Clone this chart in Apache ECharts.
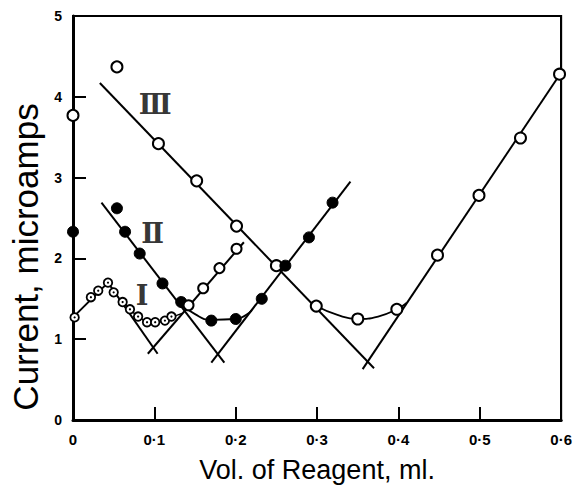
<!DOCTYPE html>
<html>
<head>
<meta charset="utf-8">
<script src="https://cdn.jsdelivr.net/npm/echarts@6/dist/echarts.min.js"></script>
<style>html,body{margin:0;padding:0;background:#fff;}#c{width:575px;height:490px;}</style>
</head>
<body>
<div id="c"></div>
<script>
// ---- data ----
const xTickLabels = ['0', '0·1', '0·2', '0·3', '0·4', '0·5', '0·6'];
const yTickLabels = ['0', '1', '2', '3', '4', '5'];
const xTickValues = [0.1, 0.2, 0.3, 0.4, 0.5];
const yTickValues = [1, 2, 3, 4];

// Curve I (dotted small circles)
const c1Points = [[0.002,1.27],[0.022,1.52],[0.031,1.60],[0.043,1.70],[0.050,1.58],[0.061,1.46],[0.070,1.37],[0.080,1.28],[0.091,1.21],[0.101,1.21],[0.113,1.23],[0.121,1.28]];
const c1RisePoints = [[0.142,1.42],[0.160,1.63],[0.180,1.88],[0.201,2.12]];
const c1Start = [[0.0,1.27],[0.043,1.70]];
const c1Desc = [[0.043,1.70],[0.104,0.82]];
const c1Rise = [[0.092,0.82],[0.210,2.20]];
const c1Bend = [[0.061,1.46],[0.070,1.37],[0.080,1.28],[0.091,1.22],[0.101,1.21],[0.113,1.23],[0.121,1.27],[0.134,1.32]];

// Curve II (filled circles)
const c2Points = [[0.0,2.33],[0.054,2.62],[0.064,2.33],[0.082,2.06],[0.110,1.69],[0.133,1.46],[0.170,1.23],[0.200,1.25],[0.232,1.50],[0.261,1.91],[0.290,2.26],[0.319,2.69]];
const c2Desc = [[0.035,2.69],[0.186,0.71]];
const c2Rise = [[0.170,0.71],[0.341,2.95]];
const c2Bend = [[0.128,1.47],[0.150,1.31],[0.170,1.24],[0.200,1.25],[0.220,1.36]];

// Curve III (open circles)
const c3Points = [[0.0,3.77],[0.054,4.37],[0.105,3.42],[0.152,2.96],[0.201,2.40],[0.250,1.91],[0.299,1.41],[0.350,1.25],[0.398,1.37],[0.448,2.04],[0.499,2.78],[0.550,3.49],[0.598,4.28]];
const c3Desc = [[0.033,4.17],[0.370,0.64]];
const c3Rise = [[0.356,0.63],[0.600,4.30]];
const c3Bend = [[0.299,1.41],[0.325,1.30],[0.350,1.25],[0.375,1.28],[0.398,1.37],[0.410,1.45]];

// Curve labels
const curveLabels = [['Ⅲ',0.101,3.90],['Ⅱ',0.098,2.31],['Ⅰ',0.085,1.54]];

// ---- chart ----
const X_MIN = 0, X_MAX = 0.6, Y_MIN = 0, Y_MAX = 5;
const chart = echarts.init(document.getElementById('c'), null, {renderer:'svg'});

function lineSeries(data, smooth, width) {
  return {type:'line', data:data, smooth:smooth ? 0.5 : false, symbol:'none',
    lineStyle:{color:'#000', width:width || 2}, z:2};
}
function dotSeries(data, size, fill, bw) {
  return {type:'scatter', data:data, symbol:'circle', symbolSize:size, z:5,
    itemStyle:{color:fill, borderColor:'#000', borderWidth:bw, opacity:1}};
}
function seg(a, b, w) { return [{coord:a, lineStyle:{width:w, color:'#000', type:'solid'}}, {coord:b}]; }

// frame + inward ticks drawn through the axes' scales (backup for axis lines)
const frameLines = [
  seg([X_MIN,Y_MIN],[X_MAX,Y_MIN],3), seg([X_MIN,Y_MIN],[X_MIN,Y_MAX],3),
  seg([X_MIN,Y_MAX],[X_MAX,Y_MAX],2), seg([X_MAX,Y_MIN],[X_MAX,Y_MAX],2)
].concat(xTickValues.map(function(v){return seg([v,Y_MIN],[v,Y_MIN+0.16],2);}))
 .concat(yTickValues.map(function(v){return seg([X_MIN,v],[X_MIN+0.016,v],2);}));

const frameSeries = lineSeries(c3Desc, false, 2);
frameSeries.markLine = {silent:true, symbol:['none','none'], animation:false,
  label:{show:false}, lineStyle:{color:'#000', type:'solid', width:2}, data:frameLines};

const option = {
  animation:false,
  grid:{left:73, right:13, top:16, bottom:70, show:true, borderColor:'#000', borderWidth:2},
  xAxis:{
    type:'value', min:X_MIN, max:X_MAX, interval:0.1,
    name:'Vol. of Reagent, ml.', nameLocation:'middle', nameGap:36,
    nameTextStyle:{fontFamily:'Liberation Sans', fontSize:27, color:'#000'},
    axisLine:{show:true, lineStyle:{color:'#000', width:3}},
    axisTick:{show:true, inside:true, length:13, lineStyle:{color:'#000', width:2}},
    axisLabel:{margin:12, fontFamily:'Liberation Sans', fontWeight:'bold', fontSize:15, color:'#000',
      formatter:function(v){return xTickLabels[Math.round(v*10)];}},
    splitLine:{show:false}
  },
  yAxis:{
    type:'value', min:Y_MIN, max:Y_MAX, interval:1,
    name:'Current, microamps', nameLocation:'middle', nameGap:25, nameRotate:90,
    nameTextStyle:{fontFamily:'Liberation Sans', fontSize:35, color:'#000', padding:[0,78,0,0]},
    axisLine:{show:true, lineStyle:{color:'#000', width:3}},
    axisTick:{show:true, inside:true, length:13, lineStyle:{color:'#000', width:2}},
    axisLabel:{margin:11, fontFamily:'Liberation Sans', fontWeight:'bold', fontSize:14, color:'#000',
      formatter:function(v){return yTickLabels[Math.round(v)];}},
    splitLine:{show:false}
  },
  series:[
    lineSeries(c1Start,false,2), lineSeries(c1Desc,false,2), lineSeries(c1Rise,false,2), lineSeries(c1Bend,true,1.5),
    lineSeries(c2Desc,false,2), lineSeries(c2Rise,false,2), lineSeries(c2Bend,true,1.8),
    frameSeries, lineSeries(c3Rise,false,2), lineSeries(c3Bend,true,1.8),
    dotSeries(c3Points, 11, '#fff', 2),
    dotSeries(c2Points, 11, '#000', 1),
    dotSeries(c1RisePoints, 10, '#fff', 2),
    dotSeries(c1Points, 8.5, '#fff', 1.8),
    dotSeries(c1Points, 2.2, '#000', 0),
    {type:'scatter', data:curveLabels.map(function(d){return {value:[d[1],d[2]], name:d[0]};}),
      symbol:'circle', symbolSize:1, z:7, itemStyle:{color:'rgba(0,0,0,0)'},
      label:{show:true, position:'inside', formatter:function(p){return p.name;},
        fontFamily:'DejaVu Serif', fontWeight:'bold', fontSize:27, color:'#000'}}
  ]
};
chart.setOption(option);
</script>
</body>
</html>
